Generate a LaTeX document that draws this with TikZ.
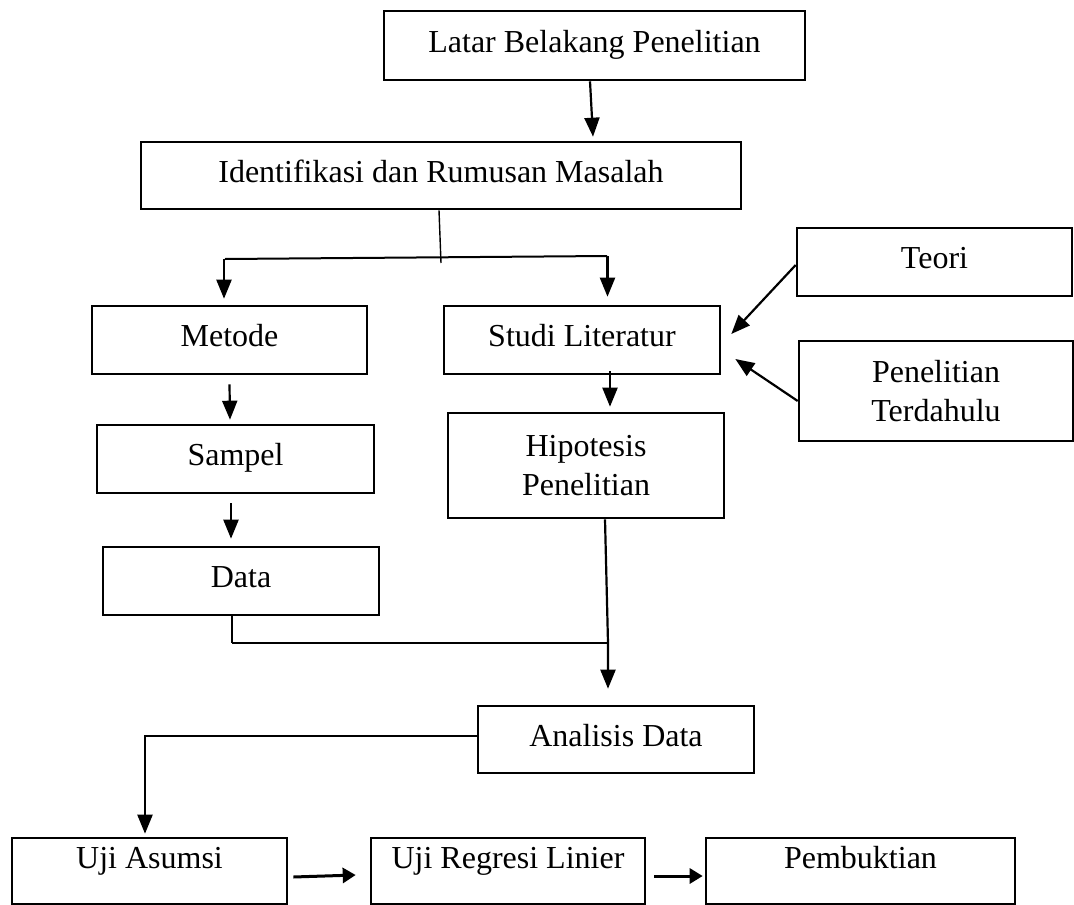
\documentclass[tikz,border=0pt]{standalone}
\usepackage{fontspec}
\setmainfont{Liberation Serif}
\usetikzlibrary{arrows.meta,calc}
\begin{document}
\begin{tikzpicture}[x=1pt,y=-1pt,
  box/.style={draw, line width=2.6pt, inner sep=0pt, align=center,
    font=\fontsize{32}{39}\selectfont},
  one/.style={text height=22pt, text depth=9pt},
  low/.style={text height=22pt, text depth=28pt},
  arr/.style={line width=2.2pt, -{Triangle[length=19pt,width=15pt]}},
  barr/.style={line width=3pt, -{Triangle[length=13pt,width=15pt]}},
  thinl/.style={line width=1.4pt},
  midl/.style={line width=2pt}]
\useasboundingbox (0,0) rectangle (1074,905);

% boxes
\node[box,one,minimum width=421pt,minimum height=69pt] (latar) at (594.5,45.5) {Latar Belakang Penelitian};
\node[box,one,minimum width=600pt,minimum height=67pt] (ident) at (441,175.5) {Identifikasi dan Rumusan Masalah};
\node[box,one,minimum width=275pt,minimum height=68pt] (teori) at (934.5,262) {Teori};
\node[box,one,minimum width=275pt,minimum height=68pt] (metode) at (229.5,340) {Metode};
\node[box,one,minimum width=276pt,minimum height=68pt] (studi) at (582,340) {Studi Literatur};
\node[box,minimum width=274pt,minimum height=100pt] (terdahulu) at (936,391) {Penelitian\\Terdahulu};
\node[box,one,minimum width=277pt,minimum height=68pt] (sampel) at (235.5,459) {Sampel};
\node[box,minimum width=276pt,minimum height=105pt] (hipotesis) at (586,465.5) {Hipotesis\\Penelitian};
\node[box,one,minimum width=276pt,minimum height=68pt] (data) at (241,581) {Data};
\node[box,one,minimum width=276pt,minimum height=67pt] (analisis) at (616,739.5) {Analisis Data};
\node[box,low,minimum width=275pt,minimum height=66pt] (ujias) at (149.5,871) {Uji Asumsi};
\node[box,low,minimum width=274pt,minimum height=66pt] (regresi) at (508,871) {Uji Regresi Linier};
\node[box,low,minimum width=309pt,minimum height=66pt] (bukti) at (860.5,871) {Pembuktian};

% junction points
\coordinate (s1) at (441,263);
\coordinate (hl) at (225,259);
\coordinate (hr) at (607,256);
\coordinate (dl) at (232,643);
\coordinate (j2) at (608,643);
\coordinate (al) at (145,736);
\coordinate (mt) at ([xshift=-5.5pt,yshift=6pt]metode.north);
\coordinate (st) at ([xshift=25.5pt,yshift=8pt]studi.north);
\coordinate (ms) at (hl -| mt);
\coordinate (ss) at (hr -| st);

% connectors
\draw[arr] ([xshift=-4.5pt]latar.south) -- ([xshift=152pt,yshift=4pt]ident.north);
\draw[thinl] ([xshift=-2pt]ident.south) -- (s1);
\draw[midl] (hl) -- (hr);
\draw[arr] (ms) -- (mt);
\draw[arr] (ss) -- (st);
\draw[arr] ([yshift=-3pt]teori.west) -- ([xshift=10pt,yshift=6pt]studi.east);
\draw[arr] ([yshift=-10pt]terdahulu.west) -- ([xshift=14pt,yshift=-19pt]studi.east);
\draw[arr] ([xshift=28pt,yshift=4pt]studi.south) -- ([xshift=24pt,yshift=5pt]hipotesis.north);
\draw[arr] ([yshift=-9pt]metode.south) -- ([xshift=-5.5pt,yshift=4pt]sampel.north);
\draw[arr] ([xshift=-4.5pt,yshift=-9pt]sampel.south) -- ([xshift=-10pt,yshift=7pt]data.north);
\draw[thinl] ([xshift=-9pt]data.south) -- (dl);
\draw[midl] (dl) -- (j2);
\draw[arr] ([xshift=19pt]hipotesis.south) -- (j2) -- ([xshift=-8pt,yshift=16pt]analisis.north);
\draw[arr] ([yshift=3.5pt]analisis.west) -- (al) -- ([xshift=-4.5pt,yshift=3pt]ujias.north);
\draw[barr] ([xshift=5pt,yshift=-6pt]ujias.east) -- ([xshift=-14pt,yshift=-4pt]regresi.west);
\draw[barr] ([xshift=8pt,yshift=-5pt]regresi.east) -- ([xshift=-2pt,yshift=-5pt]bukti.west);
\end{tikzpicture}
\end{document}
